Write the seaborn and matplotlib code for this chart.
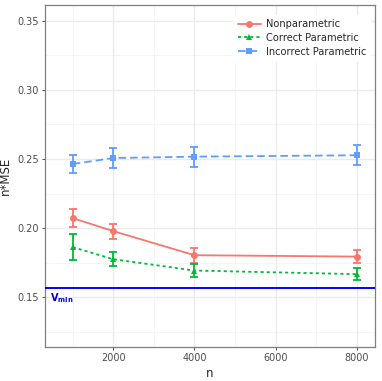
import matplotlib
matplotlib.use("Agg")
import matplotlib.pyplot as plt
import seaborn as sns
import pandas as pd
import numpy as np
from matplotlib.lines import Line2D

n_values = [1000, 2000, 4000, 8000]
methods = ["Nonparametric", "Correct Parametric", "Incorrect Parametric"]
nonpar_mean = [0.2072, 0.1978, 0.1804, 0.1794]
nonpar_err = [0.0063, 0.0055, 0.0053, 0.0046]
correct_mean = [0.1862, 0.1775, 0.1693, 0.1667]
correct_err = [0.0093, 0.0050, 0.0050, 0.0045]
incorrect_mean = [0.2464, 0.2507, 0.2517, 0.2527]
incorrect_err = [0.0068, 0.0070, 0.0072, 0.0071]
v_min = 0.1565
colors = ["#F8766D", "#00BA38", "#619CFF"]

means = [nonpar_mean, correct_mean, incorrect_mean]
errs = [nonpar_err, correct_err, incorrect_err]
rows = []
for m, mv, ev in zip(methods, means, errs):
    for n, y, e in zip(n_values, mv, ev):
        rows.append({"n": n, "mse": y, "err": e, "method": m})
df = pd.DataFrame(rows)

sns.set_style("white")
plt.rcParams["font.family"] = ["DejaVu Sans"]

fig = plt.figure(figsize=(3.82, 3.81), dpi=100)
ax = fig.add_axes([45/382, 1 - 347/381, 330/382, 342/381])

# grid
for v in [0.125, 0.175, 0.225, 0.275, 0.325]:
    ax.axhline(v, color="#F2F2F2", lw=0.5, zorder=0)
for v in [0.15, 0.2, 0.25, 0.3, 0.35]:
    ax.axhline(v, color="#EBEBEB", lw=1.0, zorder=0)
for v in [1000, 3000, 5000, 7000]:
    ax.axvline(v, color="#F2F2F2", lw=0.5, zorder=0)
for v in [2000, 4000, 6000, 8000]:
    ax.axvline(v, color="#EBEBEB", lw=1.0, zorder=0)

lw = 1.3
dash_map = {"Nonparametric": "", "Correct Parametric": (1.7, 1.7), "Incorrect Parametric": (4.2, 2.2)}
marker_map = {"Nonparametric": "o", "Correct Parametric": "^", "Incorrect Parametric": "s"}
sns.lineplot(data=df, x="n", y="mse", hue="method", style="method",
             hue_order=methods, style_order=methods, palette=colors,
             dashes=dash_map, markers=marker_map, markersize=5,
             markeredgewidth=0, lw=lw, ax=ax, legend=False, zorder=3)

for m, c in zip(methods, colors):
    sub = df[df["method"] == m]
    ax.errorbar(sub["n"], sub["mse"], yerr=sub["err"], fmt="none",
                ecolor=c, elinewidth=lw, capsize=3.0, capthick=lw, zorder=2)

ax.axhline(v_min, color="blue", lw=1.4, zorder=4)
ax.text(450, v_min - 0.0022, r"$\mathbf{V_{min}}$", color="#0000CC", fontsize=7,
        ha="left", va="top")

ax.set_xlim(315, 8451)
ax.set_ylim(0.114, 0.3614)
ax.set_xticks([2000, 4000, 6000, 8000])
ax.set_yticks([0.15, 0.20, 0.25, 0.30, 0.35])
ax.set_yticklabels(["0.15", "0.20", "0.25", "0.30", "0.35"])
ax.tick_params(axis="both", labelsize=7, labelcolor="#4D4D4D", length=2.5,
               width=0.6, color="#333333", pad=2, direction="out")
ax.tick_params(axis="x", bottom=True)
ax.tick_params(axis="y", left=True)
ax.set_xlabel("n", fontsize=8.5, labelpad=3)
ax.set_ylabel("n*MSE", fontsize=8.5, labelpad=4)
for s in ax.spines.values():
    s.set_color("#7F7F7F")
    s.set_linewidth(0.9)

handles = []
for m, c in zip(methods, colors):
    h = Line2D([], [], color=c, lw=lw, marker=marker_map[m], markersize=5,
               markeredgewidth=0)
    if dash_map[m]:
        h.set_dashes(dash_map[m])
    handles.append(h)
leg = ax.legend(handles, methods, loc="upper right", bbox_to_anchor=(1.0, 0.985),
                fontsize=7.1, frameon=True, handlelength=2.3, handletextpad=0.5,
                labelspacing=0.4, borderpad=0.4)
leg.get_frame().set_edgecolor("white")
leg.get_frame().set_facecolor("white")
leg.get_frame().set_alpha(1)

fig.savefig("out.png", dpi=100)
